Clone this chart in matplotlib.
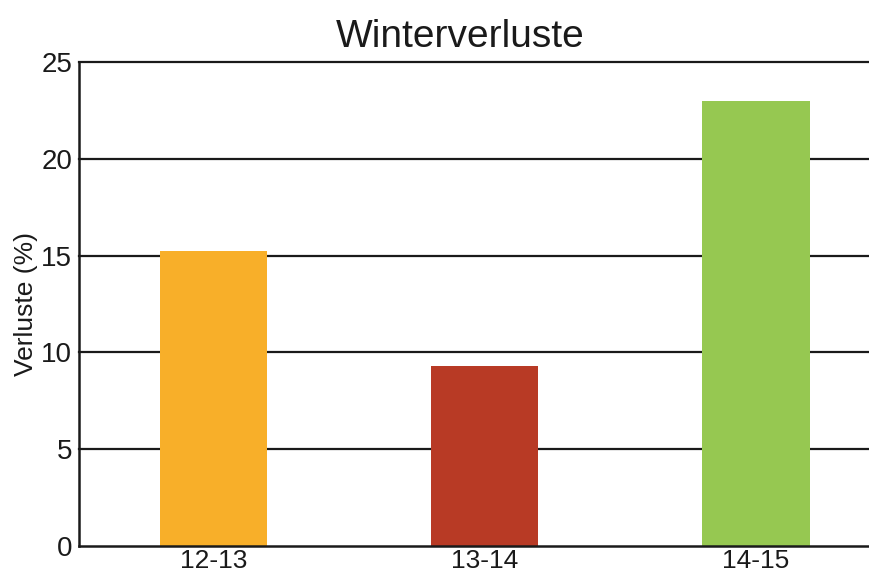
import matplotlib.pyplot as plt

seasons = ['12-13', '13-14', '14-15']
losses = [15.25, 9.3, 23.0]
colors = ['#F8AF29', '#B83A25', '#96C851']
yticks = [0, 5, 10, 15, 20, 25]

plt.rcParams['font.family'] = ['Liberation Sans', 'DejaVu Sans']

fig = plt.figure(figsize=(8.7, 5.77), dpi=100)
ax = fig.add_axes([0.0908, 0.0537, 0.9092, 0.8388])

x = range(len(seasons))
for yv in yticks[1:]:
    ax.axhline(yv, color='#1a1a1a', lw=1.6, zorder=1, clip_on=False)
ax.bar(x, losses, width=0.395, color=colors, zorder=2)

ax.set_xlim(-0.496, 2.42)
ax.set_ylim(0, 25)
ax.set_yticks(yticks)
ax.set_xticks(list(x))
ax.set_xticklabels(seasons)
ax.tick_params(axis='both', length=0, labelsize=20, colors='#1a1a1a')
ax.tick_params(axis='y', pad=5)
ax.tick_params(axis='x', pad=2, labelsize=19)

for side in ['top', 'right']:
    ax.spines[side].set_visible(False)
for side in ['left', 'bottom']:
    ax.spines[side].set_linewidth(1.8)
    ax.spines[side].set_color('#1a1a1a')

ax.set_ylabel('Verluste (%)', fontsize=19, color='#1a1a1a', labelpad=2)
ax.set_title('Winterverluste', fontsize=28, color='#1a1a1a', x=0.482, pad=11)

fig.savefig('out.png', dpi=100)
